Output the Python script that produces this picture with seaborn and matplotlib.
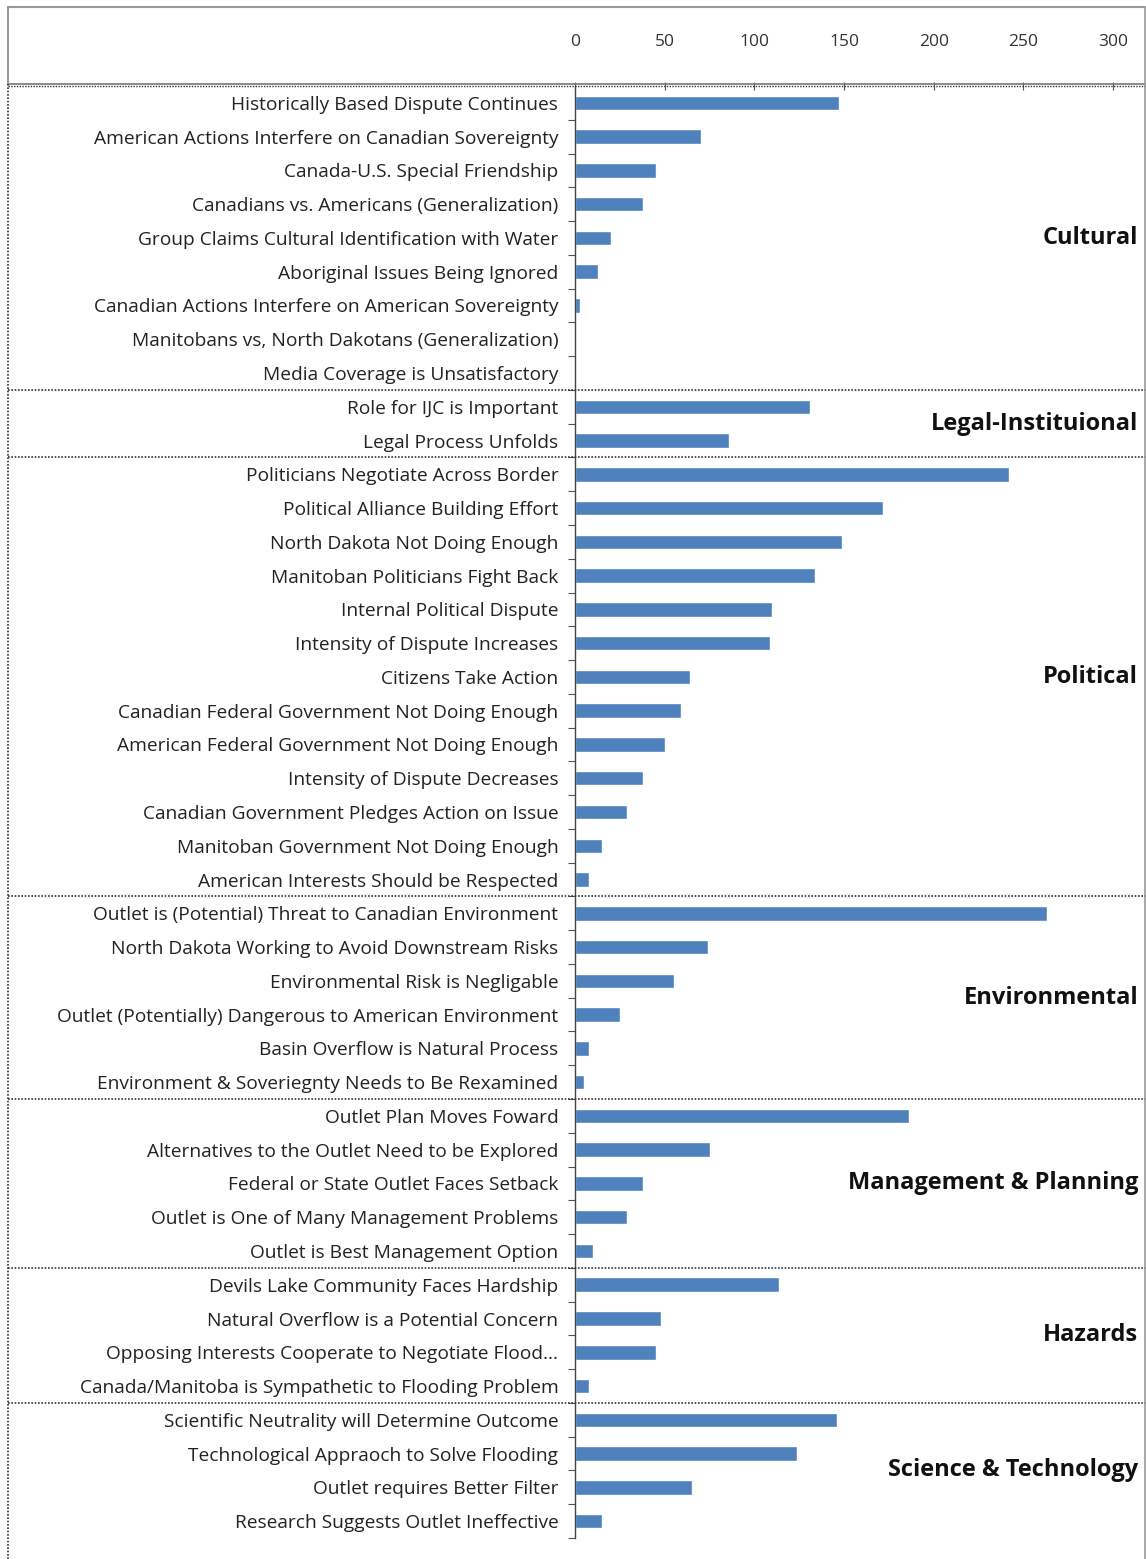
import matplotlib
matplotlib.use("Agg")
import matplotlib.pyplot as plt
from matplotlib.lines import Line2D
from matplotlib.transforms import blended_transform_factory
from matplotlib.ticker import FixedLocator
import seaborn as sns
import pandas as pd

# ---- data ---------------------------------------------------------------
cultural_labels = [
    "Historically Based Dispute Continues",
    "American Actions Interfere on Canadian Sovereignty",
    "Canada-U.S. Special Friendship",
    "Canadians vs. Americans (Generalization)",
    "Group Claims Cultural Identification with Water",
    "Aboriginal Issues Being Ignored",
    "Canadian Actions Interfere on American Sovereignty",
    "Manitobans vs, North Dakotans (Generalization)",
    "Media Coverage is Unsatisfactory",
]
cultural_values = [147, 70, 45, 38, 20, 13, 3, 0, 0]

legal_labels = [
    "Role for IJC is Important",
    "Legal Process Unfolds",
]
legal_values = [131, 86]

political_labels = [
    "Politicians Negotiate Across Border",
    "Political Alliance Building Effort",
    "North Dakota Not Doing Enough",
    "Manitoban Politicians Fight Back",
    "Internal Political Dispute",
    "Intensity of Dispute Increases",
    "Citizens Take Action",
    "Canadian Federal Government Not Doing Enough",
    "American Federal Government Not Doing Enough",
    "Intensity of Dispute Decreases",
    "Canadian Government Pledges Action on Issue",
    "Manitoban Government Not Doing Enough",
    "American Interests Should be Respected",
]
political_values = [242, 172, 149, 134, 110, 109, 64, 59, 50, 38, 29, 15, 8]

environmental_labels = [
    "Outlet is (Potential) Threat to Canadian Environment",
    "North Dakota Working to Avoid Downstream Risks",
    "Environmental Risk is Negligable",
    "Outlet (Potentially) Dangerous to American Environment",
    "Basin Overflow is Natural Process",
    "Environment & Soveriegnty Needs to Be Rexamined",
]
environmental_values = [263, 74, 55, 25, 8, 5]

management_labels = [
    "Outlet Plan Moves Foward",
    "Alternatives to the Outlet Need to be Explored",
    "Federal or State Outlet Faces Setback",
    "Outlet is One of Many Management Problems",
    "Outlet is Best Management Option",
]
management_values = [186, 75, 38, 29, 10]

hazards_labels = [
    "Devils Lake Community Faces Hardship",
    "Natural Overflow is a Potential Concern",
    "Opposing Interests Cooperate to Negotiate Flood...",
    "Canada/Manitoba is Sympathetic to Flooding Problem",
]
hazards_values = [114, 48, 45, 8]

science_labels = [
    "Scientific Neutrality will Determine Outcome",
    "Technological Appraoch to Solve Flooding",
    "Outlet requires Better Filter",
    "Research Suggests Outlet Ineffective",
]
science_values = [146, 124, 65, 15]

group_names = ["Cultural", "Legal-Instituional", "Political", "Environmental",
               "Management & Planning", "Hazards", "Science & Technology"]
x_ticks = [0, 50, 100, 150, 200, 250, 300]

groups = [
    (cultural_labels, cultural_values),
    (legal_labels, legal_values),
    (political_labels, political_values),
    (environmental_labels, environmental_values),
    (management_labels, management_values),
    (hazards_labels, hazards_values),
    (science_labels, science_values),
]

rows = []
for name, (labels, values) in zip(group_names, groups):
    for lab, val in zip(labels, values):
        rows.append({"theme": lab, "count": val, "group": name})
df = pd.DataFrame(rows)
order = list(df["theme"])
n = len(order)

# ---- figure -------------------------------------------------------------
sns.set_theme(style="white")
plt.rcParams["font.family"] = ["Open Sans", "DejaVu Sans"]

W, H = 1146, 1559
fig = plt.figure(figsize=(W / 100, H / 100), dpi=100)
fig.patch.set_facecolor("white")

ax_left, ax_right = 575 / W, 1113 / W
ax_top, ax_bot = 1 - 86 / H, 1 - 1538 / H
ax = fig.add_axes([ax_left, ax_bot, ax_right - ax_left, ax_top - ax_bot])

sns.barplot(data=df, x="count", y="theme", order=order, orient="h",
            color="#4F81BD", saturation=1, width=0.43, ax=ax)

ax.set_xlim(0, 300)
ax.set_ylim(n - 0.5, -0.5)
ax.set_xlabel("")
ax.set_ylabel("")

# x axis on top
ax.xaxis.tick_top()
ax.set_xticks(x_ticks)
ax.set_xticklabels([str(t) for t in x_ticks], fontsize=12.5, color="#333333")
ax.tick_params(axis="x", which="major", direction="inout", length=6,
               width=0.8, color="#555555", pad=23, top=True, bottom=False)

# y axis: labels at centres, tick marks at category boundaries
ax.tick_params(axis="y", which="major", length=0, pad=12,
               labelsize=13.8, labelcolor="#222222")
ax.yaxis.set_minor_locator(FixedLocator([i + 0.5 for i in range(n)]))
ax.tick_params(axis="y", which="minor", direction="out", length=5,
               width=0.8, color="#555555", left=True)

for side in ["top", "right", "bottom"]:
    ax.spines[side].set_visible(False)
ax.spines["left"].set_color("#444444")
ax.spines["left"].set_linewidth(1.0)
ax.grid(False)

# group separators and labels
trans = blended_transform_factory(fig.transFigure, ax.transData)
start = 0
x0_fig = 8 / W
for name, (labels, _) in zip(group_names, groups):
    end = start + len(labels)
    if start > 0:
        fig.add_artist(Line2D([x0_fig, 1.0], [start - 0.5, start - 0.5],
                              transform=trans, color="#333333",
                              linestyle=(0, (1, 1)), linewidth=1.2))
    centre = (start + end - 1) / 2
    fig.text(1138 / W, centre, name, transform=trans, ha="right", va="center",
             fontsize=17, fontweight="bold", color="#111111")
    start = end

# header line under the axis labels
fig.add_artist(Line2D([x0_fig, 1.0], [1 - 84 / H, 1 - 84 / H],
                      transform=fig.transFigure, color="#777777", linewidth=1.2))
fig.add_artist(Line2D([x0_fig, 1.0], [1 - 85.5 / H, 1 - 85.5 / H],
                      transform=fig.transFigure, color="#333333",
                      linestyle=(0, (1, 1)), linewidth=1.0))

# outer frame
frame_col = "#999999"
fig.add_artist(Line2D([x0_fig, 1145 / W], [1 - 7 / H, 1 - 7 / H],
                      transform=fig.transFigure, color=frame_col, linewidth=1.5))
fig.add_artist(Line2D([1145 / W, 1145 / W], [1 - 7 / H, 0],
                      transform=fig.transFigure, color=frame_col, linewidth=1.2))
fig.add_artist(Line2D([x0_fig, x0_fig], [1 - 7 / H, 1 - 84 / H],
                      transform=fig.transFigure, color=frame_col, linewidth=1.5))
fig.add_artist(Line2D([x0_fig, x0_fig], [1 - 84 / H, 0],
                      transform=fig.transFigure, color="#333333",
                      linestyle=(0, (1, 1)), linewidth=1.2))

fig.savefig("out.png", dpi=100, facecolor="white")
